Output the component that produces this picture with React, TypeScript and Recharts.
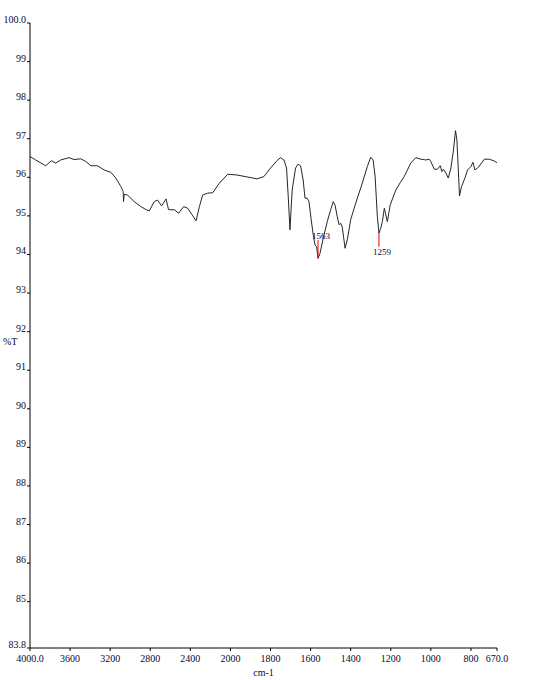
import React from 'react';
import { LineChart, Line, XAxis, YAxis, ReferenceLine } from 'recharts';

// wavenumber (cm-1)
const wavenumbers = [
  4000, 3943, 3843, 3787, 3743, 3693, 3610, 3560, 3493, 3443, 3393, 3327, 3260, 3193, 3143, 3093,
  3070, 3067, 3060, 3027, 2960, 2893, 2840, 2810, 2760, 2727, 2687, 2643, 2617, 2560, 2517, 2467,
  2427, 2383, 2343, 2310, 2277, 2227, 2177, 2110, 2027, 1967, 1917, 1867, 1833, 1800, 1770, 1750,
  1733, 1720, 1712, 1703, 1692, 1675, 1663, 1650, 1637, 1628, 1617, 1608, 1597, 1587, 1578, 1570,
  1563, 1553, 1537, 1517, 1500, 1487, 1478, 1467, 1458, 1450, 1442, 1428, 1417, 1400, 1375, 1342,
  1317, 1300, 1288, 1278, 1267, 1259, 1250, 1242, 1232, 1217, 1203, 1175, 1153, 1133, 1100, 1075,
  1050, 1025, 1008, 1000, 983, 967, 953, 945, 937, 925, 913, 900, 887, 877, 870, 863,
  857, 847, 830, 817, 800, 790, 780, 763, 733, 708, 683, 670,
];

// %T at each wavenumber
const transmittance = [
  96.54, 96.45, 96.3, 96.43, 96.37, 96.45, 96.51, 96.46, 96.48, 96.41, 96.3, 96.3, 96.19, 96.13, 95.98, 95.76,
  95.63, 95.37, 95.56, 95.54, 95.37, 95.24, 95.16, 95.13, 95.37, 95.41, 95.26, 95.44, 95.16, 95.16, 95.07, 95.24,
  95.2, 95.03, 94.87, 95.24, 95.54, 95.59, 95.6, 95.85, 96.08, 96.06, 96.01, 95.96, 96.02, 96.24, 96.42, 96.51,
  96.45, 96.24, 95.54, 94.64, 95.67, 96.24, 96.34, 96.3, 95.93, 95.46, 95.46, 95.37, 94.9, 94.51, 94.25, 94.2,
  93.9, 94.03, 94.42, 94.85, 95.16, 95.37, 95.28, 94.98, 94.77, 94.81, 94.71, 94.16, 94.38, 94.9, 95.33, 95.85,
  96.28, 96.52, 96.45, 96.02, 94.98, 94.55, 94.68, 94.85, 95.2, 94.85, 95.28, 95.67, 95.86, 96.02, 96.37, 96.51,
  96.47, 96.45, 96.47, 96.41, 96.21, 96.21, 96.3, 96.15, 96.21, 96.11, 95.98, 96.24, 96.71, 97.21, 96.97, 96.19,
  95.52, 95.76, 95.98, 96.19, 96.28, 96.39, 96.19, 96.26, 96.47, 96.47, 96.42, 96.38,
];

const xTickValues = [4000, 3600, 3200, 2800, 2400, 2000, 1800, 1600, 1400, 1200, 1000, 800, 670];
const yTickValues = [83.8, 85, 86, 87, 88, 89, 90, 91, 92, 93, 94, 95, 96, 97, 98, 99, 100];

const peakWavenumbers = [1563, 1259];
const peakTransmittance = [93.9, 94.55];
const peakLabelSide = ['top', 'bottom'];

// the x axis doubles its scale below 2000 cm-1
const toPos = (wn: number) => (wn >= 2000 ? 4000 - wn : 2000 + 2 * (2000 - wn));
const POS_MAX = toPos(670);

const data = wavenumbers.map((wn, i) => ({ pos: toPos(wn), t: transmittance[i] }));

const FONT = '"Liberation Serif", "Times New Roman", serif';
const TEXT = '#0a0a30';

const fmtX = (v: number) => {
  const wn = xTickValues.find((w) => toPos(w) === v);
  if (wn === 4000 || wn === 670) return wn.toFixed(1);
  return String(wn);
};
const fmtY = (v: number) => (v === 100 || v === 83.8 ? v.toFixed(1) : String(v));

const XTick = (props: any) => {
  const { x, y, payload } = props;
  return (
    <text x={x} y={y + 11} textAnchor="middle" fontSize={10} fontFamily={FONT} fill={TEXT}>
      {fmtX(payload.value)}
    </text>
  );
};

const YTick = (props: any) => {
  const { x, y, payload } = props;
  return (
    <text x={x - 1} y={y} textAnchor="end" fontSize={10} fontFamily={FONT} fill={TEXT}>
      {fmtY(payload.value)}
    </text>
  );
};

const PeakLabel = (props: any) => {
  const { viewBox, value, side } = props;
  const x = viewBox.x + 3;
  const y = side === 'top' ? viewBox.y - 1 : viewBox.y + viewBox.height + 8;
  return (
    <text x={x} y={y} textAnchor="middle" fontSize={9} fontFamily={FONT} fill={TEXT}>
      {value}
    </text>
  );
};

export default function App() {
  return (
    <div style={{ position: 'absolute', left: 0, top: 0 }}>
      <LineChart width={538} height={680} data={data} margin={{ top: 23, right: 41, bottom: 0, left: 0 }}>
        <XAxis
          type="number"
          dataKey="pos"
          domain={[0, POS_MAX]}
          ticks={xTickValues.map(toPos)}
          interval={0}
          height={32}
          tickSize={3}
          tickMargin={0}
          stroke="#000"
          tick={<XTick />}
          label={{
            content: (p: any) => (
              <text
                x={p.viewBox.x + p.viewBox.width / 2}
                y={676}
                textAnchor="middle"
                fontSize={10}
                fontFamily={FONT}
                fill={TEXT}
              >
                cm-1
              </text>
            ),
          }}
        />
        <YAxis
          type="number"
          domain={[83.8, 100]}
          ticks={yTickValues}
          interval={0}
          width={30}
          tickSize={3}
          tickMargin={0}
          stroke="#000"
          tick={<YTick />}
          label={{
            content: () => (
              <text x={3} y={345} fontSize={10} fontFamily={FONT} fill={TEXT}>
                %T
              </text>
            ),
          }}
        />
        <Line
          type="linear"
          dataKey="t"
          stroke="#262626"
          strokeWidth={1}
          dot={false}
          isAnimationActive={false}
        />
        {peakWavenumbers.map((wn, i) => {
          const t = peakTransmittance[i];
          const side = peakLabelSide[i];
          const end = side === 'top' ? t + 0.47 : t - 0.35;
          return (
            <ReferenceLine
              key={wn}
              segment={[
                { x: toPos(wn), y: Math.max(t, end) },
                { x: toPos(wn), y: Math.min(t, end) },
              ]}
              stroke="#e00000"
              strokeWidth={1}
              label={<PeakLabel value={String(wn)} side={side} />}
            />
          );
        })}
      </LineChart>
    </div>
  );
}
